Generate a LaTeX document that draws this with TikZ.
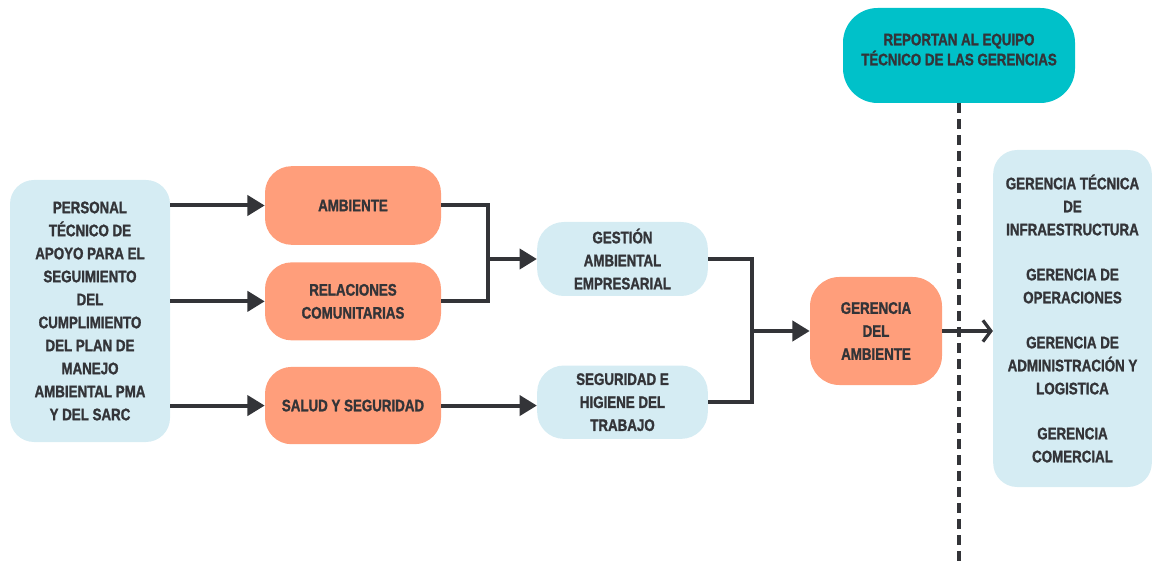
\documentclass[tikz,border=0pt]{standalone}
\usepackage{fontspec}
\setmainfont{Liberation Sans}[FakeStretch=0.8, BoldFeatures={FakeBold=1.4}]
\usepackage{xcolor}
\usetikzlibrary{arrows.meta,positioning,calc}

\definecolor{celeste}{HTML}{D5ECF3}
\definecolor{salmon}{HTML}{FF9E7B}
\definecolor{turquesa}{HTML}{00C1C9}
\definecolor{tinta}{HTML}{333438}

\begin{document}
\begin{tikzpicture}[
        x=0.75pt, y=-0.75pt,
        font=\fontsize{12.5}{17.25}\selectfont\bfseries,
        caja/.style={rectangle, rounded corners=20pt, draw=none, text=tinta, align=center, inner sep=2pt},
        azul/.style={caja, fill=celeste},
        naranja/.style={caja, fill=salmon},
        linea/.style={draw=tinta, line width=3pt},
        flecha/.style={linea, -{Triangle[length=13pt,width=15pt]}},
        salida/.style={linea, -{Straight Barb[length=6pt,width=16pt,line width=2.4pt]}}
    ]
        \useasboundingbox (0,0) rectangle (1152,566);

        % columna izquierda
        \node[azul, minimum width=120pt, minimum height=196.5pt, rounded corners=18pt] (personal) at (90,311)
            {PERSONAL\\TÉCNICO DE\\APOYO PARA EL\\SEGUIMIENTO\\DEL\\CUMPLIMIENTO\\DEL PLAN DE\\MANEJO\\AMBIENTAL PMA\\Y DEL SARC};

        % areas
        \node[naranja, minimum width=132pt, minimum height=59pt] (ambiente) at (353,205.5) {AMBIENTE};
        \node[naranja, minimum width=132pt, minimum height=58.5pt, below=12.75pt of ambiente] (relaciones) {RELACIONES\\COMUNITARIAS};
        \node[naranja, minimum width=132pt, minimum height=58pt, below=19.5pt of relaciones] (salud) {SALUD Y SEGURIDAD};

        \node[azul, minimum width=128pt, minimum height=55.5pt] (gestion) at (622.5,259) {GESTIÓN\\AMBIENTAL\\EMPRESARIAL};
        \node[azul, minimum width=128pt, minimum height=55pt, below=51.75pt of gestion] (seguridad) {SEGURIDAD E\\HIGIENE DEL\\TRABAJO};

        \node[naranja, minimum width=99pt, minimum height=81pt, rounded corners=22pt] (gerencia) at (876,331) {GERENCIA\\DEL\\AMBIENTE};

        % gerencias
        \node[caja, fill=turquesa, minimum width=174pt, minimum height=71.25pt, rounded corners=26pt, text depth=9pt,
              font=\fontsize{12.5}{15}\selectfont\bfseries] (reportan) at (959,55.5)
            {REPORTAN AL EQUIPO\\TÉCNICO DE LAS GERENCIAS};
        \node[azul, minimum width=119pt, minimum height=252.75pt, rounded corners=18pt] (gerencias) at (1072.5,318.5)
            {GERENCIA TÉCNICA\\DE\\INFRAESTRUCTURA\\[16.5pt]GERENCIA DE\\OPERACIONES\\[16.5pt]GERENCIA DE\\ADMINISTRACIÓN Y\\LOGISTICA\\[16.5pt]GERENCIA\\COMERCIAL};

        \coordinate (j1) at (488,259);
        \coordinate (j2) at (752,331);
        \coordinate (fin) at (959,566);

        \draw[flecha] (personal.east |- ambiente) -- (ambiente.west);
        \draw[flecha] (personal.east |- relaciones) -- (relaciones.west);
        \draw[flecha] (personal.east |- salud) -- (salud.west);

        \draw[linea] (ambiente.east) -| (j1 |- relaciones.east) -- (relaciones.east);
        \draw[flecha] (j1) -- (gestion.west);
        \draw[flecha] (salud.east) -- (seguridad.west |- salud.east);

        \draw[linea] (gestion.east) -| (j2 |- seguridad.east) -- (seguridad.east);
        \draw[flecha] (j2) -- (gerencia.west);

        \draw[draw=tinta, line width=2.3pt, dash pattern=on 7.5pt off 4.5pt] (reportan.south) -- (fin);
        \draw[salida] (gerencia.east) -- (gerencias.west |- gerencia.east);
    \end{tikzpicture}
\end{document}
